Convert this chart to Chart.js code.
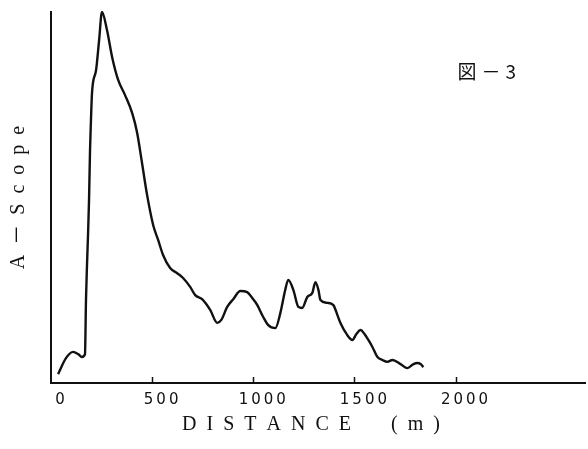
<!DOCTYPE html>
<html lang="ja">
<head>
<meta charset="utf-8">
<title>図－3 A-Scope</title>
<script src="https://cdn.jsdelivr.net/npm/chart.js@4"></script>
<style>
    html, body { margin: 0; padding: 0; background: #fff; }
    #wrap { width: 588px; height: 449px; }
</style>
</head>
<body>
<div id="wrap"><canvas id="ascopeChart" width="588" height="449"></canvas></div>
<script>
// 距離 (m)
const distances = [
    35, 74, 109, 134, 153, 168, 173, 178, 183, 188, 193, 196, 203, 223, 238, 252,
    277, 302, 332, 366, 401, 426, 450, 475, 505, 530, 554, 589, 624, 653, 688, 713,
    747, 787, 822, 842, 871, 901, 936, 970, 995, 1020, 1049, 1074, 1109, 1134, 1158, 1173,
    1198, 1223, 1242, 1267, 1292, 1307, 1322, 1332, 1366, 1396, 1416, 1431, 1465, 1490, 1510, 1530,
    1550, 1569, 1589, 1614, 1638, 1663, 1688, 1728, 1762, 1792, 1812, 1827, 1841
];
// A-Scope 強度 (相対値, ピーク = 100)
const amplitudes = [
    2.4, 6.7, 8.4, 7.8, 7.0, 7.8, 22.4, 31.8, 39.9, 49.3, 62.8, 68.2, 78.4, 84.4, 92.5, 100,
    95.1, 87.9, 81.7, 77.6, 72.8, 67.4, 59.3, 50.7, 42.6, 38.5, 34.5, 31.0, 29.6, 28.3, 25.9, 23.7,
    22.6, 19.7, 16.2, 17.0, 20.5, 22.6, 24.8, 24.5, 22.9, 21.0, 17.8, 15.6, 14.8, 18.9, 25.1, 27.8,
    25.1, 20.5, 20.2, 23.2, 24.3, 27.2, 25.1, 22.4, 21.6, 21.0, 18.3, 16.2, 12.9, 11.6, 13.2, 14.3,
    13.2, 11.6, 9.7, 7.0, 6.2, 5.7, 6.2, 5.1, 4.0, 5.1, 5.4, 5.1, 4.3
];
// 目盛
const xTickValues = [0, 500, 1000, 1500, 2000];

const xTitle = 'D\u2002I\u2002S\u2002T\u2002A\u2002N\u2002C\u2002E\u2002\u2002\u2002\u2002(\u2002m\u2002)\u2002\u2009';
const yTitle = 'A\u2002－\u2002S\u2002c\u2002o\u2002p\u2002e';
const figureLabel = '図－3';

const INK = '#111';
const SERIF = '"Liberation Serif", "Noto Sans CJK JP", serif';

// 図番号ラベル
const figureLabelPlugin = {
    id: 'figureLabel',
    afterDraw(chart, args, opts) {
        const { ctx, scales: { x, y } } = chart;
        ctx.save();
        ctx.font = '19px "Noto Sans CJK JP"';
        ctx.letterSpacing = '5px';
        ctx.fillStyle = INK;
        ctx.textAlign = 'left';
        ctx.textBaseline = 'middle';
        ctx.fillText(opts.text, x.getPixelForValue(opts.x), y.getPixelForValue(opts.y));
        ctx.restore();
    }
};

// x軸の内向き目盛線
const innerTicksPlugin = {
    id: 'innerTicks',
    afterDraw(chart, args, opts) {
        const { ctx, chartArea, scales: { x } } = chart;
        ctx.save();
        ctx.strokeStyle = INK;
        ctx.lineWidth = 1.5;
        ctx.beginPath();
        xTickValues.filter(v => v > 0).forEach(v => {
            const px = Math.round(x.getPixelForValue(v)) + 0.5;
            ctx.moveTo(px, chartArea.bottom);
            ctx.lineTo(px, chartArea.bottom - opts.length);
        });
        ctx.stroke();
        ctx.restore();
    }
};

const points = distances.map((d, i) => ({ x: d, y: amplitudes[i] }));

new Chart(document.getElementById('ascopeChart'), {
    type: 'line',
    data: {
        datasets: [{
            label: 'A-Scope',
            data: points,
            borderColor: INK,
            borderWidth: 2.4,
            pointRadius: 0,
            fill: false,
            tension: 0.3,
            cubicInterpolationMode: 'monotone',
            clip: false
        }]
    },
    options: {
        responsive: false,
        animation: false,
        layout: { padding: { top: 12, right: 3, left: 0, bottom: 0 } },
        scales: {
            x: {
                type: 'linear',
                min: 0,
                max: 2640,
                afterBuildTicks: (scale) => {
                    scale.ticks = xTickValues.map(v => ({ value: v }));
                },
                ticks: {
                    color: INK,
                    font: { family: '"DejaVu Sans", sans-serif', size: 15 },
                    padding: 8,
                    labelOffset: 9,
                    maxRotation: 0,
                    callback: (value) => String(value).split('').join('\u2009')
                },
                grid: { display: false, drawTicks: false },
                border: { display: true, color: INK, width: 2 },
                title: {
                    display: true,
                    text: xTitle,
                    color: INK,
                    font: { family: SERIF, size: 20 },
                    padding: { top: -4, bottom: 12 }
                }
            },
            y: {
                type: 'linear',
                min: 0,
                max: 100,
                ticks: { display: false },
                grid: { display: false, drawTicks: false },
                border: { display: true, color: INK, width: 2 },
                title: {
                    display: true,
                    text: yTitle,
                    color: INK,
                    font: { family: SERIF, size: 20 },
                    padding: { top: 7, bottom: 20 }
                }
            }
        },
        plugins: {
            legend: { display: false },
            tooltip: { enabled: false },
            figureLabel: { text: figureLabel, x: 2010, y: 84 },
            innerTicks: { length: 6 }
        }
    },
    plugins: [figureLabelPlugin, innerTicksPlugin]
});
</script>
</body>
</html>
